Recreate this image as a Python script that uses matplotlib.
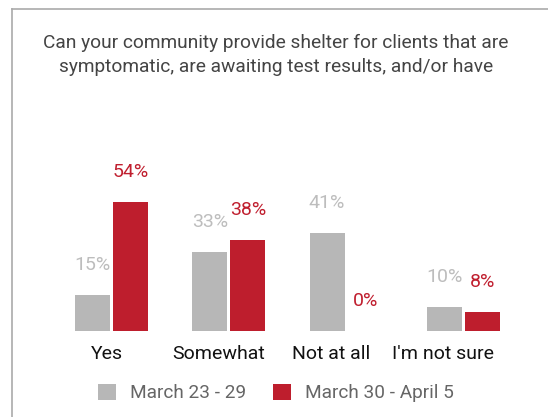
import numpy as np
import matplotlib
matplotlib.use("Agg")
import matplotlib.pyplot as plt
from matplotlib.patches import Patch
from matplotlib.lines import Line2D

## data
categories = ["Yes", "Somewhat", "Not at all", "I'm not sure"]
week1 = [15, 33, 41, 10]
week2 = [54, 38, 0, 8]
series_names = ["March 23 - 29", "March 30 - April 5"]
title = ("Can your community provide shelter for clients that are\n"
         "symptomatic, are awaiting test results, and/or have")

## style
plt.rcParams["font.family"] = ["Roboto", "DejaVu Sans"]
gray = "#b7b7b7"
red = "#be1e2d"
gray_txt = "#bdbdbd"
red_txt = "#c01f2f"

W, H = 548, 417
fig = plt.figure(figsize=(W / 100, H / 100), dpi=100)

# axes placed in pixel terms: baseline at y=331, group spacing 117.3 px
x0px, step = 111.5, 117.3
base_px, top_px = 331, 100
ax = fig.add_axes([0, (H - base_px) / H, 1, (base_px - top_px) / H])
ax.set_xlim(-x0px / step, (W - x0px) / step)
ax.set_ylim(0, (base_px - top_px) / 2.39)
ax.axis("off")

x = np.arange(len(categories))
bw, off = 0.30, 0.162
b1 = ax.bar(x - off, week1, bw, color=gray, linewidth=0)
b2 = ax.bar(x + off, week2, bw, color=red, linewidth=0)

for bars, vals, c in [(b1, week1, gray_txt), (b2, week2, red_txt)]:
    for b, v in zip(bars, vals):
        ax.annotate(f"{v}%", (b.get_x() + b.get_width() / 2, v),
                    xytext=(0, 21.6), textcoords="offset points",
                    ha="center", va="center", fontsize=14, color=c)

# category labels (sit a little left of the group centres, as in the source)
lab_x = x * 0.956 - 0.04
for lx, name in zip(lab_x, categories):
    ax.text(lx, -23 / 2.39, name, ha="center", va="center",
            fontsize=14, color="#111111")

# title
fig.text(276 / W, 1 - 34 / H, title, ha="center", va="top",
         fontsize=13.8, color="#444444", linespacing=1.45)

# legend
handles = [Patch(facecolor=gray, edgecolor="none"), Patch(facecolor=red, edgecolor="none")]
fig.legend(handles, series_names, loc="center", bbox_to_anchor=(276 / W, 1 - 393 / H),
           ncol=2, frameon=False, fontsize=13.7, labelcolor="#666666",
           handlelength=0.95, handleheight=0.95, handletextpad=0.73, columnspacing=1.4)

# card border (left and top)
fig.add_artist(Line2D([12 / W, 12 / W], [0, 1 - 9 / H], transform=fig.transFigure,
                      color="#aaaaaa", linewidth=1.2))
fig.add_artist(Line2D([12 / W, 1], [1 - 9 / H, 1 - 9 / H], transform=fig.transFigure,
                      color="#aaaaaa", linewidth=1.2))

fig.savefig("out.png", dpi=100)
